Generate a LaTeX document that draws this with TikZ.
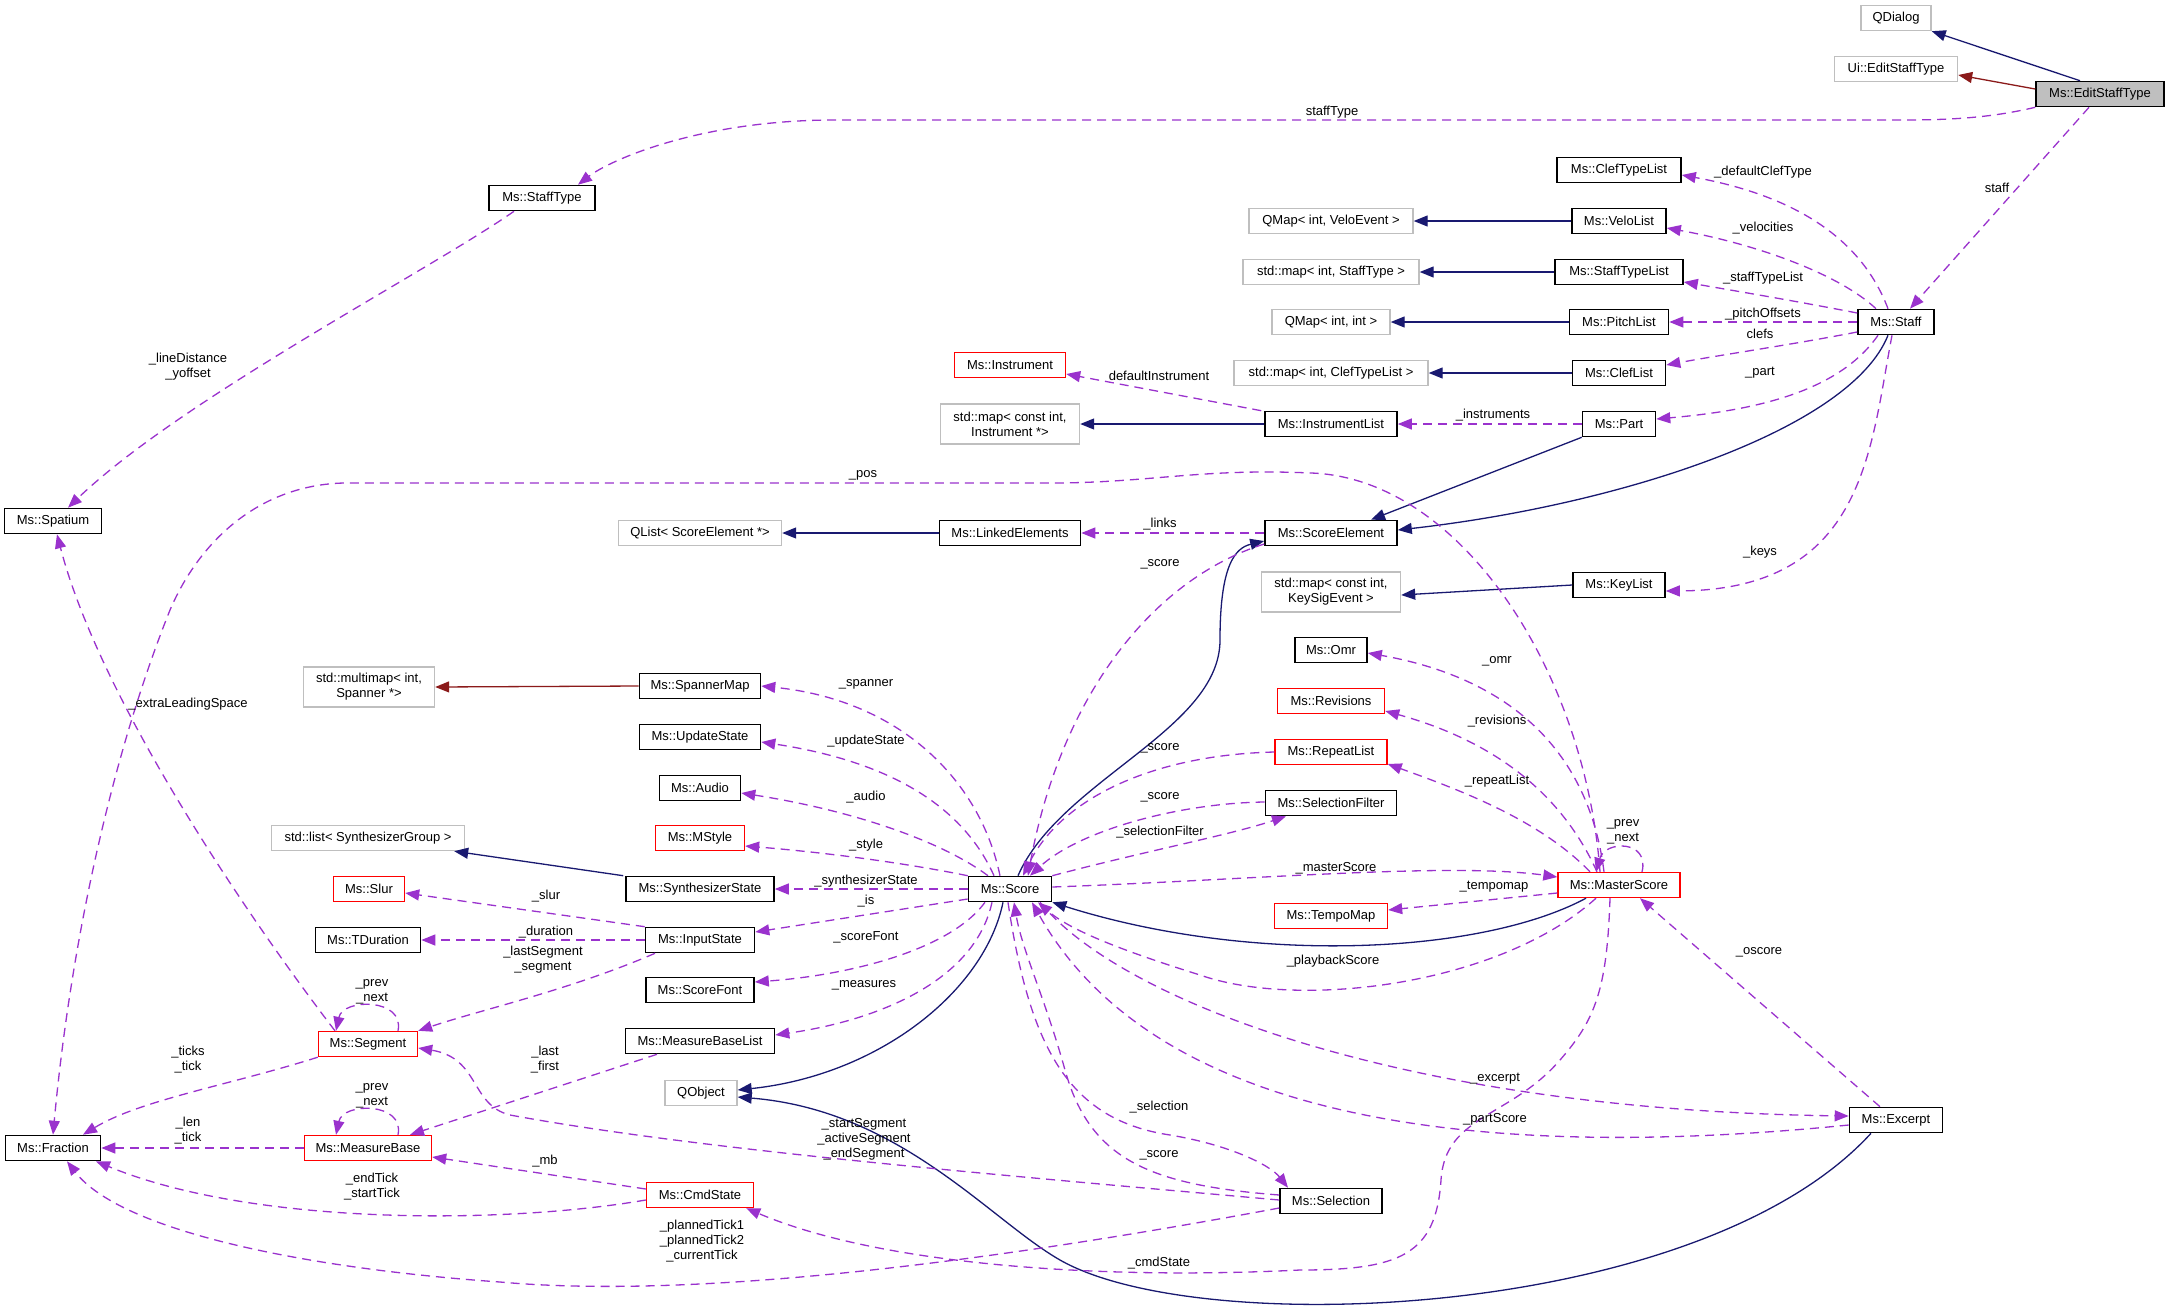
\documentclass[tikz,border=0pt]{standalone}
\usepackage{fontspec}
\setmainfont{Liberation Sans}
\usetikzlibrary{arrows.meta}
\definecolor{purp}{HTML}{9A32CD}
\definecolor{navy}{HTML}{191970}
\definecolor{fbrick}{HTML}{8B1A1A}
\definecolor{gsev}{HTML}{BFBFBF}
\begin{document}
\begin{tikzpicture}[x=1pt,y=-1pt,
  every node/.style={font=\fontsize{13}{15}\selectfont, inner sep=2pt},
  box/.style={draw=black, line width=1.6pt, minimum height=25pt, minimum width=#1, align=center, fill=white},
  gbox/.style={draw=gsev, line width=1.4pt, minimum height=25pt, minimum width=#1, align=center, fill=white},
  rbox/.style={draw=red, line width=1.4pt, minimum height=25pt, minimum width=#1, align=center, fill=white},
  lbl/.style={align=center, inner sep=0pt},
  usage/.style={draw=purp, line width=1.3pt, dash pattern=on 9pt off 6pt, -{Triangle[length=14pt,width=11pt]}},
  inh/.style={draw=navy, line width=1.3pt, -{Triangle[length=14pt,width=11pt]}},
  priv/.style={draw=fbrick, line width=1.3pt, -{Triangle[length=14pt,width=11pt]}},
]
\useasboundingbox (0,0) rectangle (2169,1312);
% nodes
\node[gbox=70pt] (qdialog) at (1896,18) {QDialog};
\node[gbox=123pt] (uiedit) at (1896,69) {Ui::EditStaffType};
\node[box=128pt, fill=gsev] (edit) at (2100,94) {Ms::EditStaffType};
\node[box=106pt] (stafftype) at (542,198) {Ms::StaffType};
\node[box=124pt] (clefTypeList) at (1619,170) {Ms::ClefTypeList};
\node[box=94pt] (velolist) at (1619,221) {Ms::VeloList};
\node[box=128pt] (staffTypeList) at (1619,272) {Ms::StaffTypeList};
\node[box=99pt] (pitchlist) at (1619,322) {Ms::PitchList};
\node[box=76pt] (staff) at (1896,322) {Ms::Staff};
\node[box=93pt] (cleflist) at (1619,373) {Ms::ClefList};
\node[gbox=164pt] (qmapvelo) at (1331,221) {QMap< int, VeloEvent >};
\node[gbox=176pt] (mapstafftype) at (1331,272) {std::map< int, StaffType >};
\node[gbox=118pt] (qmapint) at (1331,322) {QMap< int, int >};
\node[gbox=194pt] (mapclef) at (1331,373) {std::map< int, ClefTypeList >};
\node[rbox=111pt] (instrument) at (1010,365) {Ms::Instrument};
\node[gbox=139pt, minimum height=40pt] (mapinstr) at (1010,424) {std::map< const int,\\Instrument *>};
\node[box=132pt] (instrlist) at (1331,424) {Ms::InstrumentList};
\node[box=73pt] (part) at (1619,424) {Ms::Part};
\node[box=141pt] (linked) at (1010,533) {Ms::LinkedElements};
\node[box=132pt] (scoreel) at (1331,533) {Ms::ScoreElement};
\node[gbox=163pt] (qlist) at (700,533) {QList< ScoreElement *>};
\node[box=97pt] (spatium) at (53,521) {Ms::Spatium};
\node[box=92pt] (keylist) at (1619,585) {Ms::KeyList};
\node[gbox=139pt, minimum height=40pt] (mapkey) at (1331,592) {std::map< const int,\\KeySigEvent >};
\node[box=72pt] (omr) at (1331,650) {Ms::Omr};
\node[rbox=107pt] (revisions) at (1331,701) {Ms::Revisions};
\node[rbox=112pt] (repeatlist) at (1331,752) {Ms::RepeatList};
\node[box=131pt] (selfilter) at (1331,803) {Ms::SelectionFilter};
\node[rbox=122pt] (masterscore) at (1619,885) {Ms::MasterScore};
\node[rbox=113pt] (tempomap) at (1331,916) {Ms::TempoMap};
\node[box=83pt] (score) at (1010,889) {Ms::Score};
\node[box=121pt] (spannermap) at (700,686) {Ms::SpannerMap};
\node[box=121pt] (updatestate) at (700,737) {Ms::UpdateState};
\node[box=81pt] (audio) at (700,788) {Ms::Audio};
\node[rbox=89pt] (mstyle) at (700,838) {Ms::MStyle};
\node[box=148pt] (synth) at (700,889) {Ms::SynthesizerState};
\node[box=109pt] (inputstate) at (700,940) {Ms::InputState};
\node[box=108pt] (scorefont) at (700,990) {Ms::ScoreFont};
\node[box=149pt] (mblist) at (700,1041) {Ms::MeasureBaseList};
\node[gbox=72pt] (qobject) at (701,1093) {QObject};
\node[rbox=107pt] (cmdstate) at (700,1195) {Ms::CmdState};
\node[gbox=131pt, minimum height=40pt] (multimap) at (369,687) {std::multimap< int,\\Spanner *>};
\node[gbox=193pt] (stdlist) at (368,838) {std::list< SynthesizerGroup >};
\node[rbox=71pt] (slur) at (369,889) {Ms::Slur};
\node[box=105pt] (tduration) at (368,940) {Ms::TDuration};
\node[rbox=99pt] (segment) at (368,1044) {Ms::Segment};
\node[rbox=127pt] (measurebase) at (368,1148) {Ms::MeasureBase};
\node[box=95pt] (fraction) at (53,1148) {Ms::Fraction};
\node[box=102pt] (selection) at (1331,1201) {Ms::Selection};
\node[box=93pt] (excerpt) at (1896,1120) {Ms::Excerpt};

% inheritance / solid
\draw[inh] ([xshift=-20pt]edit.north) -- (qdialog.south east);
\draw[priv] ([yshift=5pt]edit.west) -- ([yshift=-6pt]uiedit.east);
\draw[inh] (velolist.west) -- (qmapvelo.east);
\draw[inh] (staffTypeList.west) -- (mapstafftype.east);
\draw[inh] (pitchlist.west) -- (qmapint.east);
\draw[inh] (cleflist.west) -- (mapclef.east);
\draw[inh] (instrlist.west) -- (mapinstr.east);
\draw[inh] (linked.west) -- (qlist.east);
\draw[inh] (keylist.west) -- ([yshift=-3pt]mapkey.east);
\draw[inh] (part.south west) -- ([xshift=40pt]scoreel.north);
\draw[inh] ([xshift=-8pt]staff.south) .. controls (1850,430) and (1620,505) .. ([yshift=3pt]scoreel.east);
\draw[inh] ([xshift=8pt]score.north) .. controls (1060,780) and (1220,730) .. (1220,640) .. controls (1220,565) and (1235,548) .. ([yshift=-8pt]scoreel.west);
\draw[inh] ([xshift=-33pt]masterscore.south) .. controls (1480,955) and (1250,965) .. (score.south east);
\draw[inh] ([xshift=-7pt]score.south) .. controls (985,990) and (880,1075) .. ([yshift=3pt]qobject.east);
\draw[inh] ([xshift=-25pt]excerpt.south) .. controls (1700,1320) and (1200,1340) .. (1060,1260) .. controls (990,1220) and (900,1110) .. ([yshift=-4pt]qobject.east);
\draw[inh] ([xshift=-2pt]synth.north west) -- ([xshift=-11pt]stdlist.south east);
\draw[priv] (spannermap.west) -- (multimap.east);

% usage / dashed
\draw[usage] (edit.south west) .. controls (1990,118) and (1950,120) .. (1900,120) -- (835,120) .. controls (700,120) and (610,160) .. ([xshift=36pt]stafftype.north);
\draw[usage] ([xshift=-11pt]edit.south) -- ([xshift=14pt]staff.north);
\draw[usage] ([xshift=-8pt]staff.north) .. controls (1860,235) and (1790,195) .. ([yshift=-5pt]clefTypeList.east);
\draw[usage] ([xshift=-20pt]staff.north) .. controls (1840,275) and (1760,245) .. ([yshift=-7pt]velolist.east);
\draw[usage] ([yshift=9pt]staff.west) .. controls (1790,300) and (1730,290) .. ([yshift=-10pt]staffTypeList.east);
\draw[usage] (staff.west) -- (pitchlist.east);
\draw[usage] ([yshift=-10pt]staff.west) .. controls (1790,345) and (1720,355) .. ([yshift=8pt]cleflist.east);
\draw[usage] ([xshift=-18pt]staff.south) .. controls (1840,390) and (1760,410) .. ([yshift=5pt]part.east);
\draw[usage] ([xshift=-4pt]staff.south) .. controls (1870,450) and (1865,590) .. ([yshift=-6pt]keylist.east);
\draw[usage] (part.west) -- (instrlist.east);
\draw[usage] ([xshift=-3pt]instrlist.north west) -- ([yshift=-9pt]instrument.east);
\draw[usage] (scoreel.west) -- (linked.east);
\draw[usage] ([yshift=-11pt]scoreel.west) .. controls (1150,580) and (1060,700) .. ([xshift=18pt]score.north);
\draw[usage] ([xshift=-19pt]masterscore.north) .. controls (1585,670) and (1460,478) .. (1311,473) .. controls (1200,468) and (1150,483) .. (1050,483) -- (344,483) .. controls (260,485) and (200,540) .. (170,610) .. controls (110,760) and (70,950) .. (fraction.north);
\draw[usage] ([xshift=-28pt]stafftype.south) .. controls (430,270) and (180,400) .. ([xshift=15pt]spatium.north);
\draw[usage] ([xshift=-33pt]segment.north) .. controls (250,920) and (100,700) .. ([xshift=4pt]spatium.south);
\draw[usage] ([xshift=-10pt]score.north) .. controls (980,780) and (900,700) .. (spannermap.east);
\draw[usage] ([xshift=-16pt]score.north) .. controls (960,800) and (880,760) .. ([yshift=-5pt]updatestate.east);
\draw[usage] ([xshift=-22pt]score.north) .. controls (940,840) and (850,810) .. ([yshift=-5pt]audio.east);
\draw[usage] (score.north west) .. controls (900,862) and (820,852) .. ([yshift=-8pt]mstyle.east);
\draw[usage] (score.west) -- (synth.east);
\draw[usage] ([yshift=-10pt]score.west) -- ([yshift=8pt]inputstate.east);
\draw[usage] ([xshift=-25pt]score.south) .. controls (950,950) and (850,975) .. ([yshift=8pt]scorefont.east);
\draw[usage] ([xshift=-18pt]score.south) .. controls (975,980) and (880,1020) .. ([yshift=6pt]mblist.east);
\draw[usage] (inputstate.north west) -- ([yshift=-4pt]slur.east);
\draw[usage] (inputstate.west) -- (tduration.east);
\draw[usage] ([xshift=-45pt]inputstate.south) .. controls (570,990) and (480,1010) .. (segment.north east);
\draw[usage] ([xshift=30pt]segment.north) .. controls (405,998) and (343,998) .. ([xshift=-32pt]segment.north);
\draw[usage] ([xshift=30pt]measurebase.north) .. controls (405,1102) and (343,1102) .. ([xshift=-32pt]measurebase.north);
\draw[usage] (segment.south west) .. controls (230,1085) and (140,1100) .. ([xshift=30pt]fraction.north);
\draw[usage] (measurebase.west) -- (fraction.east);
\draw[usage] ([xshift=-43pt]mblist.south) -- ([xshift=42pt]measurebase.north);
\draw[usage] ([yshift=6pt]cmdstate.west) -- ([yshift=-9pt]measurebase.east);
\draw[usage] ([yshift=-5pt]cmdstate.west) .. controls (500,1225) and (250,1225) .. ([xshift=43pt]fraction.south);
\draw[usage] ([yshift=-7pt]selection.west) .. controls (1000,1260) and (700,1300) .. (500,1282) .. controls (300,1268) and (120,1230) .. ([xshift=14pt]fraction.south);
\draw[usage] ([yshift=1pt]selection.west) .. controls (1000,1175) and (700,1150) .. (510,1115) .. controls (470,1105) and (480,1058) .. ([yshift=-4pt]segment.east);
\draw[usage] ([xshift=-9pt]masterscore.south) .. controls (1607,990) and (1595,1020) .. (1560,1060) .. controls (1510,1118) and (1445,1115) .. (1441,1180) .. controls (1436,1255) and (1400,1270) .. (1300,1270) .. controls (1100,1280) and (880,1265) .. ([xshift=-8pt]cmdstate.south east);
\draw[usage] ([xshift=-2pt]score.south) .. controls (1030,1050) and (1070,1120) .. (1170,1135) .. controls (1230,1145) and (1270,1165) .. ([xshift=-43pt]selection.north);
\draw[usage] ([yshift=6pt]selection.west) .. controls (1150,1185) and (1090,1160) .. (1065,1070) .. controls (1045,998) and (1022,950) .. ([xshift=4pt]score.south);
\draw[usage] ([yshift=1pt]selfilter.west) .. controls (1180,803) and (1080,830) .. ([xshift=20pt]score.north);
\draw[usage] (repeatlist.west) .. controls (1150,755) and (1060,800) .. ([xshift=13pt]score.north);
\draw[usage] (score.north east) .. controls (1150,850) and (1230,835) .. ([xshift=-45pt]selfilter.south);
\draw[usage] ([yshift=2pt]score.east) .. controls (1250,880) and (1450,862) .. ([yshift=8pt]masterscore.west);
\draw[usage] ([yshift=-8pt]masterscore.west) -- ([yshift=6pt]tempomap.east);
\draw[usage] ([xshift=-23pt]masterscore.south) .. controls (1500,985) and (1300,1010) .. (1200,975) .. controls (1120,950) and (1070,930) .. ([xshift=28pt]score.south);
\draw[usage] ([xshift=-15pt]masterscore.north) .. controls (1590,760) and (1520,680) .. ([yshift=-3pt]omr.east);
\draw[usage] ([xshift=-22pt]masterscore.north) .. controls (1560,790) and (1490,740) .. ([yshift=-10pt]revisions.east);
\draw[usage] ([xshift=-29pt]masterscore.north) .. controls (1540,820) and (1460,790) .. ([yshift=-12pt]repeatlist.east);
\draw[usage] ([xshift=23pt]masterscore.north) .. controls (1650,840) and (1605,840) .. ([xshift=-23pt]masterscore.north);
\draw[usage] ([xshift=-16pt]excerpt.north) -- ([xshift=21pt]masterscore.south);
\draw[usage] ([xshift=30pt]score.south) .. controls (1120,1000) and (1400,1110) .. ([yshift=4pt]excerpt.west);
\draw[usage] ([yshift=-5pt]excerpt.west) .. controls (1500,1160) and (1160,1130) .. ([xshift=22pt]score.south);

% labels
\node[lbl] (l1) at (1332,112) {staffType};
\node[lbl] (l2) at (1997,188) {staff};
\node[lbl] (l3) at (1763,172) {\_defaultClefType};
\node[lbl] (l4) at (1763,228) {\_velocities};
\node[lbl] (l5) at (1763,278) {\_staffTypeList};
\node[lbl] (l6) at (1763,314) {\_pitchOffsets};
\node[lbl] (l7) at (1760,334) {clefs};
\node[lbl] (l8) at (1760,373) {\_part};
\node[lbl] (l9) at (1760,552) {\_keys};
\node[lbl] (l10) at (1493,415) {\_instruments};
\node[lbl] (l11) at (1159,376) {defaultInstrument};
\node[lbl] (l12) at (1160,524) {\_links};
\node[lbl] (l13) at (1160,564) {\_score};
\node[lbl] (l14) at (863,475) {\_pos};
\node[lbl] (l15) at (188,367) {\_lineDistance\\\_yoffset};
\node[lbl] (l16) at (188,704) {\_extraLeadingSpace};
\node[lbl] (l17) at (866,684) {\_spanner};
\node[lbl] (l18) at (866,741) {\_updateState};
\node[lbl] (l19) at (866,797) {\_audio};
\node[lbl] (l20) at (866,845) {\_style};
\node[lbl] (l21) at (866,881) {\_synthesizerState};
\node[lbl] (l22) at (866,901) {\_is};
\node[lbl] (l23) at (866,937) {\_scoreFont};
\node[lbl] (l24) at (864,985) {\_measures};
\node[lbl] (l25) at (546,896) {\_slur};
\node[lbl] (l26) at (546,932) {\_duration};
\node[lbl] (l27) at (543,960) {\_lastSegment\\\_segment};
\node[lbl] (l28) at (372,992) {\_prev\\\_next};
\node[lbl] (l29) at (372,1096) {\_prev\\\_next};
\node[lbl] (l30) at (188,1060) {\_ticks\\\_tick};
\node[lbl] (l31) at (188,1131) {\_len\\\_tick};
\node[lbl] (l32) at (545,1060) {\_last\\\_first};
\node[lbl] (l33) at (545,1161) {\_mb};
\node[lbl] (l34) at (372,1187) {\_endTick\\\_startTick};
\node[lbl] (l35) at (702,1241) {\_plannedTick1\\\_plannedTick2\\\_currentTick};
\node[lbl] (l36) at (864,1139) {\_startSegment\\\_activeSegment\\\_endSegment};
\node[lbl] (l37) at (1159,1263) {\_cmdState};
\node[lbl] (l38) at (1159,1107) {\_selection};
\node[lbl] (l39) at (1159,1155) {\_score};
\node[lbl] (l40) at (1160,797) {\_score};
\node[lbl] (l41) at (1160,748) {\_score};
\node[lbl] (l42) at (1160,832) {\_selectionFilter};
\node[lbl] (l43) at (1336,868) {\_masterScore};
\node[lbl] (l44) at (1494,887) {\_tempomap};
\node[lbl] (l45) at (1333,961) {\_playbackScore};
\node[lbl] (l46) at (1497,661) {\_omr};
\node[lbl] (l47) at (1497,721) {\_revisions};
\node[lbl] (l48) at (1497,781) {\_repeatList};
\node[lbl] (l49) at (1623,832) {\_prev\\\_next};
\node[lbl] (l50) at (1759,952) {\_oscore};
\node[lbl] (l51) at (1495,1079) {\_excerpt};
\node[lbl] (l52) at (1495,1119) {\_partScore};
\end{tikzpicture}
\end{document}
